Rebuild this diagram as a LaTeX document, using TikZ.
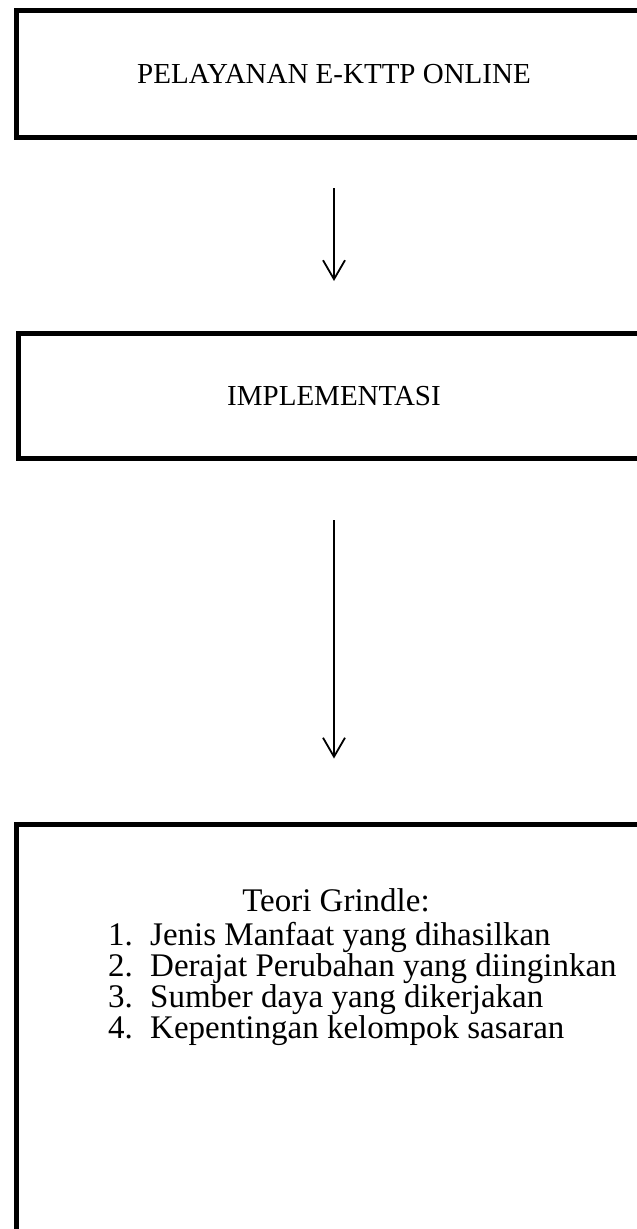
\documentclass[tikz,border=0pt]{standalone}
\usepackage{fontspec}
\setmainfont{Liberation Serif}
\usetikzlibrary{arrows.meta,positioning}
\begin{document}
\begin{tikzpicture}[
  x=1pt, y=-1pt,
  box/.style={rectangle, draw, line width=5pt, inner sep=0pt},
  flow/.style={-{Straight Barb[length=19pt,width=22pt]}, line width=1.8pt},
  font=\fontsize{29}{34}\selectfont
]
\useasboundingbox (0,0) rectangle (637,1229);
\clip (0,0) rectangle (637,1229);
\node[box, minimum width=635pt, minimum height=127pt] (online) at (334,74) {PELAYANAN E-KTTP ONLINE};
\node[box, minimum width=631pt, minimum height=125pt] (impl) at (334,396) {IMPLEMENTASI};
\node[box, minimum width=636pt, minimum height=426pt] (grindle) at (334,1037) {};

\draw[flow, shorten <=48pt, shorten >=50pt] (online) -- (impl);
\draw[flow, shorten <=59pt, shorten >=63pt] (impl) -- (grindle);

\node[font=\fontsize{33}{38}\selectfont] (teori) at (336,900) {Teori Grindle:};
\node[anchor=north west, inner sep=0pt, align=left, font=\fontsize{33}{31}\selectfont] (daftar) at (108,922) {%
  \makebox[42pt][l]{1.}Jenis Manfaat yang dihasilkan\\
  \makebox[42pt][l]{2.}Derajat Perubahan yang diinginkan\\
  \makebox[42pt][l]{3.}Sumber daya yang dikerjakan\\
  \makebox[42pt][l]{4.}Kepentingan kelompok sasaran};
\end{tikzpicture}
\end{document}
